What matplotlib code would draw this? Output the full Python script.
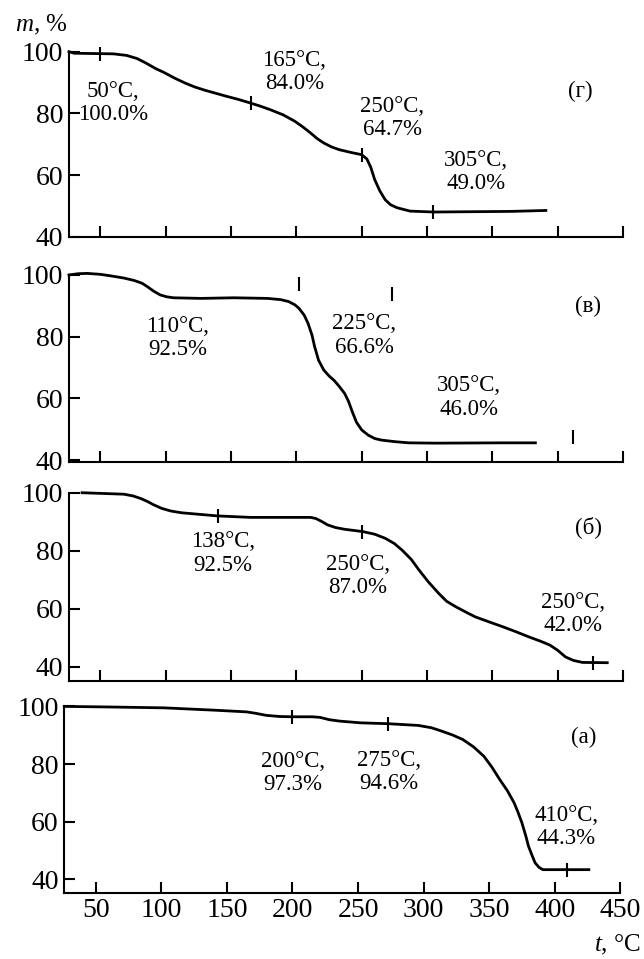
import matplotlib.pyplot as plt

plt.rcParams['font.family'] = 'Liberation Serif'
plt.rcParams['mathtext.fontset'] = 'custom'
plt.rcParams['mathtext.rm'] = 'Liberation Serif'
plt.rcParams['mathtext.it'] = 'Liberation Serif:italic'

# Panel (г)
t_g = [26, 30, 60, 70, 78, 85, 92, 99, 107, 114.5, 122, 130, 146, 155, 164.5, 172, 180, 190, 199, 205, 211, 216, 221, 227, 233, 242, 250, 254, 257, 260, 264, 268, 272, 277, 287, 305, 364, 391]
m_g = [100, 99.5, 99.3, 98.8, 97.8, 96.3, 94.6, 93.2, 91.4, 89.9, 88.6, 87.5, 85.6, 84.6, 83.4, 82.4, 81.2, 79.5, 77.4, 75.6, 73.6, 71.8, 70.4, 69.1, 68.2, 67.3, 66.6, 65.2, 62.5, 58.5, 54.8, 52, 50.4, 49.4, 48.3, 48, 48.2, 48.5]
mark_t_g = [50, 165, 250, 305]
mark_m_g = [99.3, 83.4, 66.6, 48]
lab_g = ['50°C,\n100.0%', '165°C,\n84.0%', '250°C,\n64.7%', '305°C,\n49.0%']
lab_t_g = [60, 198.5, 273.5, 337.5]
lab_m_g = [83.3, 93.5, 78.4, 60.9]

# Panel (в)
t_v = [26, 33, 40, 50, 58, 68, 76, 82, 86, 91, 96, 101, 106, 127, 152, 178, 188, 194, 199, 202, 206, 209, 212, 214, 217, 221, 225, 229, 233, 237, 240, 243, 246, 250, 255, 260, 265, 275, 286, 306, 358, 383]
m_v = [100, 100.4, 100.5, 100.2, 99.7, 99, 98.2, 97.3, 96.2, 94.7, 93.5, 92.9, 92.6, 92.4, 92.6, 92.4, 92, 91.4, 90.3, 89.2, 87, 84.3, 80.5, 76.8, 72.4, 69.2, 67.3, 65.8, 63.8, 61.6, 59, 55.5, 52.3, 49.8, 48.1, 47, 46.5, 46, 45.6, 45.5, 45.6, 45.6]
mark_t_v = [202, 273.6, 411.5]
mark_m_v = [97, 93.8, 47.4]
lab_v = ['110°C,\n92.5%', '225°C,\n66.6%', '305°C,\n46.0%']
lab_t_v = [109, 252, 332]
lab_m_v = [79.5, 80.4, 60.3]

# Panel (б)
t_b = [36, 55, 68, 75, 81, 86, 91, 97, 104, 112, 122, 140, 165, 211, 215, 219, 224, 230, 237, 251, 260, 268, 275, 281, 288, 294, 301, 309, 315, 322, 330, 337, 348, 358, 368, 378, 387, 394, 400, 406, 412, 419, 438]
m_b = [100, 99.7, 99.5, 98.9, 98, 97, 95.8, 94.6, 93.7, 93.1, 92.7, 92, 91.5, 91.5, 91.1, 90.2, 88.9, 88, 87.4, 86.6, 85.7, 84.3, 82.5, 80.2, 77, 73.3, 69.3, 65.3, 62.6, 60.7, 58.8, 57.2, 55.4, 53.8, 52.1, 50.3, 48.8, 47.5, 45.7, 43.4, 42.2, 41.5, 41.4]
mark_t_b = [140, 250, 427]
mark_m_b = [92, 86.6, 41.4]
lab_b = ['138°C,\n92.5%', '250°C,\n87.0%', '250°C,\n42.0%']
lab_t_b = [143.6, 247, 411.5]
lab_m_b = [79.1, 71.3, 58.2]

# Panel (а)
t_a = [26, 60, 102, 140, 165, 172, 180, 190, 200, 215, 221, 228, 236, 252, 273, 296, 306, 314, 322, 330, 338, 346, 352, 358, 364, 369, 372, 375, 378, 380, 383, 385, 388, 391, 409, 426]
m_a = [100, 99.8, 99.5, 98.7, 98.1, 97.6, 96.9, 96.5, 96.4, 96.4, 96.2, 95.4, 94.9, 94.3, 94.0, 93.4, 92.6, 91.4, 90.1, 88.5, 86, 82.7, 79, 74.7, 70.7, 66.6, 63.3, 59.6, 55, 51.5, 48, 45.8, 44.2, 43.4, 43.4, 43.4]
mark_t_a = [200, 273, 409]
mark_m_a = [96.4, 94.0, 43.4]
lab_a = ['200°C,\n97.3%', '275°C,\n94.6%', '410°C,\n44.3%']
lab_t_a = [200.4, 273.6, 409]
lab_m_a = [77, 77.3, 58.2]

panels = [
    ('(г)', t_g, m_g, mark_t_g, mark_m_g, lab_g, lab_t_g, lab_m_g, [0.1071, 0.7532, 0.8602, 0.1929], 40),
    ('(в)', t_v, m_v, mark_t_v, mark_m_v, lab_v, lab_t_v, lab_m_v, [0.1071, 0.5186, 0.8602, 0.1947], 39.5),
    ('(б)', t_b, m_b, mark_t_b, mark_m_b, lab_b, lab_t_b, lab_m_b, [0.1071, 0.2902, 0.8602, 0.1960], 35.2),
    ('(a)', t_a, m_a, mark_t_a, mark_m_a, lab_a, lab_t_a, lab_m_a, [0.0998, 0.0691, 0.8634, 0.1943], 35.4),
]
tag_t = [417, 423, 424, 422]
tag_m = [87.0, 89.7, 88.3, 89.1]

fig = plt.figure(figsize=(6.44, 9.59), dpi=100)

for i, (tag, t, m, mt, mm, labs, lt, lm, rect, ymin) in enumerate(panels):
    ax = fig.add_axes(rect)
    ax.plot(t, m, color='black', lw=2, clip_on=False)
    ax.plot(mt, mm, ls='none', marker='|', ms=10, mew=1.5, color='black', clip_on=False)
    for s, x, y in zip(labs, lt, lm):
        ax.text(x, y, s, ha='center', va='center', fontsize=16.5, linespacing=1.15)
    ax.text(tag_t[i], tag_m[i], tag, ha='center', va='center', fontsize=16.5)
    ax.set_xlim(26, 450)
    ax.set_ylim(ymin, 100)
    ax.set_xticks(range(50, 451, 50))
    ax.set_yticks([40, 60, 80, 100])
    ax.spines['top'].set_visible(False)
    ax.spines['right'].set_visible(False)
    for sp in ('left', 'bottom'):
        ax.spines[sp].set_linewidth(1.5)
    ax.tick_params(direction='in', length=8, width=1.5, labelsize=20, pad=4)
    if i < 3:
        ax.tick_params(axis='x', labelbottom=False)

fig.text(0.064, 0.974, '$m$, %', ha='center', va='center', fontsize=18)
fig.text(0.995, 0.015, '$t$, °C', ha='right', va='center', fontsize=18)

plt.savefig('out.png', dpi=100)
